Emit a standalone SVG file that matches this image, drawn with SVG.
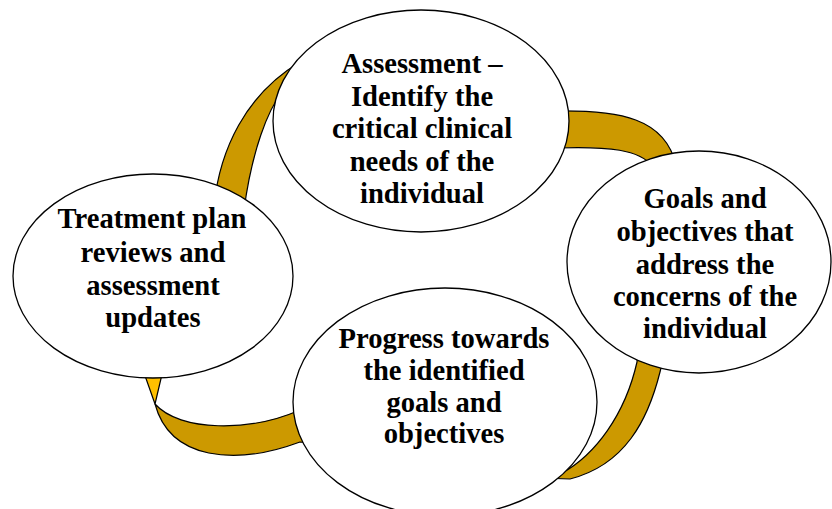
<svg xmlns="http://www.w3.org/2000/svg" width="832" height="509" viewBox="0 0 832 509">
<style>
.band{fill:#CC9900;stroke:#000;stroke-width:1.2;stroke-linejoin:round}
.band2{fill:#FFC000;stroke:#000;stroke-width:1.2;stroke-linejoin:round}
.node ellipse{fill:#fff;stroke:#000;stroke-width:1.3}
.node text{font-family:"Liberation Serif","Times New Roman",serif;font-weight:bold;font-size:28.6px;fill:#000;text-anchor:middle}
</style>
<rect width="832" height="509" fill="#fff"/>
<g id="connectors">
  <path class="band" d="M214,205 C220,150 245,95 300,62 L300,95 L282,92 C268,110 252,150 244,210 Z"/>
  <path class="band" d="M555,111 C620,110 665,118 676,165 L652,166 C640,150 610,146 555,148 Z"/>
  <path class="band" d="M638,345 L665,352 L660,372 C648,420 625,465 570,479 L540,478 L545,470 L562,473 C595,455 625,415 637,362 Z"/>
  <path class="band2" d="M143,370 L163,370 L155,404 Z"/>
  <path class="band" d="M155,404 C180,432 250,432 300,410 L330,400 L330,445 L300,442 C235,466 170,460 155,404 Z"/>
</g>
<g id="node-assessment" class="node">
  <ellipse cx="421" cy="121" rx="148" ry="111"/>
  <text x="422" y="73">Assessment –</text>
  <text x="422" y="105.5">Identify the</text>
  <text x="422" y="138">critical clinical</text>
  <text x="422" y="170.5">needs of the</text>
  <text x="422" y="203">individual</text>
</g>
<g id="node-goals" class="node">
  <ellipse cx="699" cy="262" rx="132" ry="111"/>
  <text x="705" y="208">Goals and</text>
  <text x="705" y="241">objectives that</text>
  <text x="705" y="274">address the</text>
  <text x="705" y="306">concerns of the</text>
  <text x="705" y="338">individual</text>
</g>
<g id="node-progress" class="node">
  <ellipse cx="445" cy="402" rx="152" ry="114"/>
  <text x="444" y="348">Progress towards</text>
  <text x="444" y="380">the identified</text>
  <text x="444" y="412">goals and</text>
  <text x="444" y="443">objectives</text>
</g>
<g id="node-treatment" class="node">
  <ellipse cx="153" cy="276" rx="140" ry="102"/>
  <text x="152" y="228">Treatment plan</text>
  <text x="153" y="262">reviews and</text>
  <text x="153" y="295">assessment</text>
  <text x="153" y="327">updates</text>
</g>
</svg>
